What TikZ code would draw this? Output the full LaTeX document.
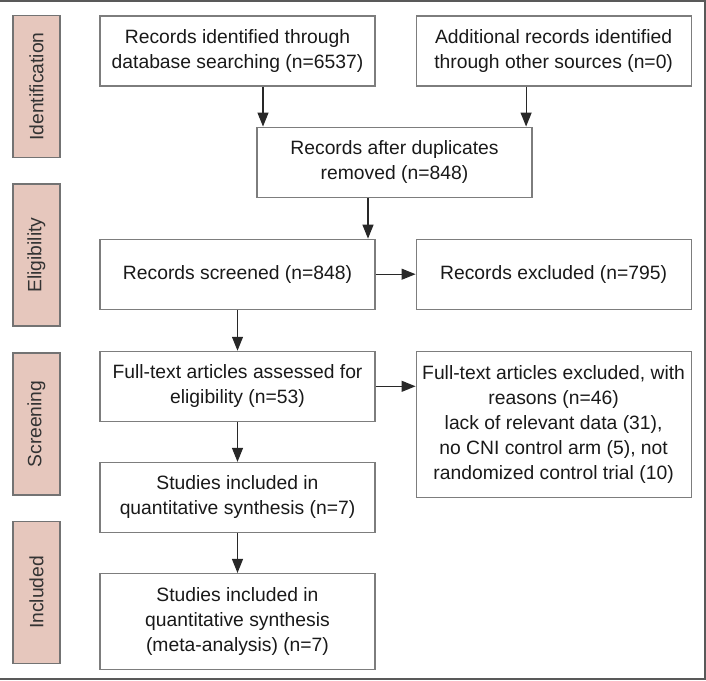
\documentclass[tikz,border=0pt]{standalone}
\usepackage{fontspec}
\setmainfont{Liberation Sans}
\usepackage{tikz}
\usetikzlibrary{arrows.meta,positioning,calc}
\definecolor{prlabel}{RGB}{230,199,189}
\definecolor{prframe}{RGB}{125,125,125}
\definecolor{prline}{RGB}{40,40,40}

\begin{document}
\begin{tikzpicture}[
  x=1pt, y=1pt,
  font=\fontsize{19.3}{25}\selectfont,
  node distance=40pt,
  box/.style={draw=prframe, line width=1.1pt, align=center, minimum width=275pt,
              minimum height=70pt, inner sep=2pt, text=black!90},
  stage/.style={draw=black!55, fill=prlabel, line width=1.1pt, rotate=90,
                minimum width=142pt, minimum height=47pt, inner sep=0pt, text=black!80},
  arr/.style={-{Triangle[length=14pt,width=11pt]}, prline, line width=1.2pt}
]
\useasboundingbox (0,0) rectangle (706,-680);
\draw[line width=2pt, black!65] (0,-1) -- (705,-1) -- (705,-679) -- (0,-679);

% stage labels on the left
\foreach \stg/\yc in {Identification/86.5, Eligibility/255, Screening/424, Included/592.5}
  \node[stage] (stage-\stg) at (36.5,-\yc) {\stg};

\node[box] (ident) at (237.5,-51) {Records identified through\\database searching (n=6537)};
\node[box, right=of ident] (other) {Additional records identified\\through other sources (n=0)};
\node[box, below=of ident, xshift=157pt] (dedup) {Records after duplicates\\removed (n=848)};
\node[box, below=41pt of dedup, xshift=-157pt] (screen) {Records screened (n=848)};
\node[box, right=of screen] (excl) {Records excluded (n=795)};
\node[box, below=41pt of screen] (full) {Full-text articles assessed for\\eligibility (n=53)};
\node[box, right=of full.north east, anchor=north west, minimum height=146pt] (fexcl)
  {Full-text articles excluded, with\\reasons (n=46)\\lack of relevant data (31),\\
   no CNI control arm (5), not\\randomized control trial (10)};
\node[box, below=of full] (quant) {Studies included in\\quantitative synthesis (n=7)};
\node[box, below=of quant, minimum height=96pt] (meta)
  {Studies included in\\quantitative synthesis\\(meta-analysis) (n=7)};

\draw[arr] ([xshift=25.5pt]ident.south) -- ([xshift=25.5pt]ident.south |- dedup.north);
\draw[arr] ([xshift=-27.5pt]other.south) -- ([xshift=-27.5pt]other.south |- dedup.north);
\draw[arr] ([xshift=-26.5pt]dedup.south) -- ([xshift=-26.5pt]dedup.south |- screen.north);
\draw[arr] (screen) -- (excl);
\draw[arr] (screen) -- (full);
\draw[arr] (full.east) -- (full.east -| fexcl.west);
\draw[arr] (full) -- (quant);
\draw[arr] (quant) -- (meta);

\end{tikzpicture}
\end{document}
